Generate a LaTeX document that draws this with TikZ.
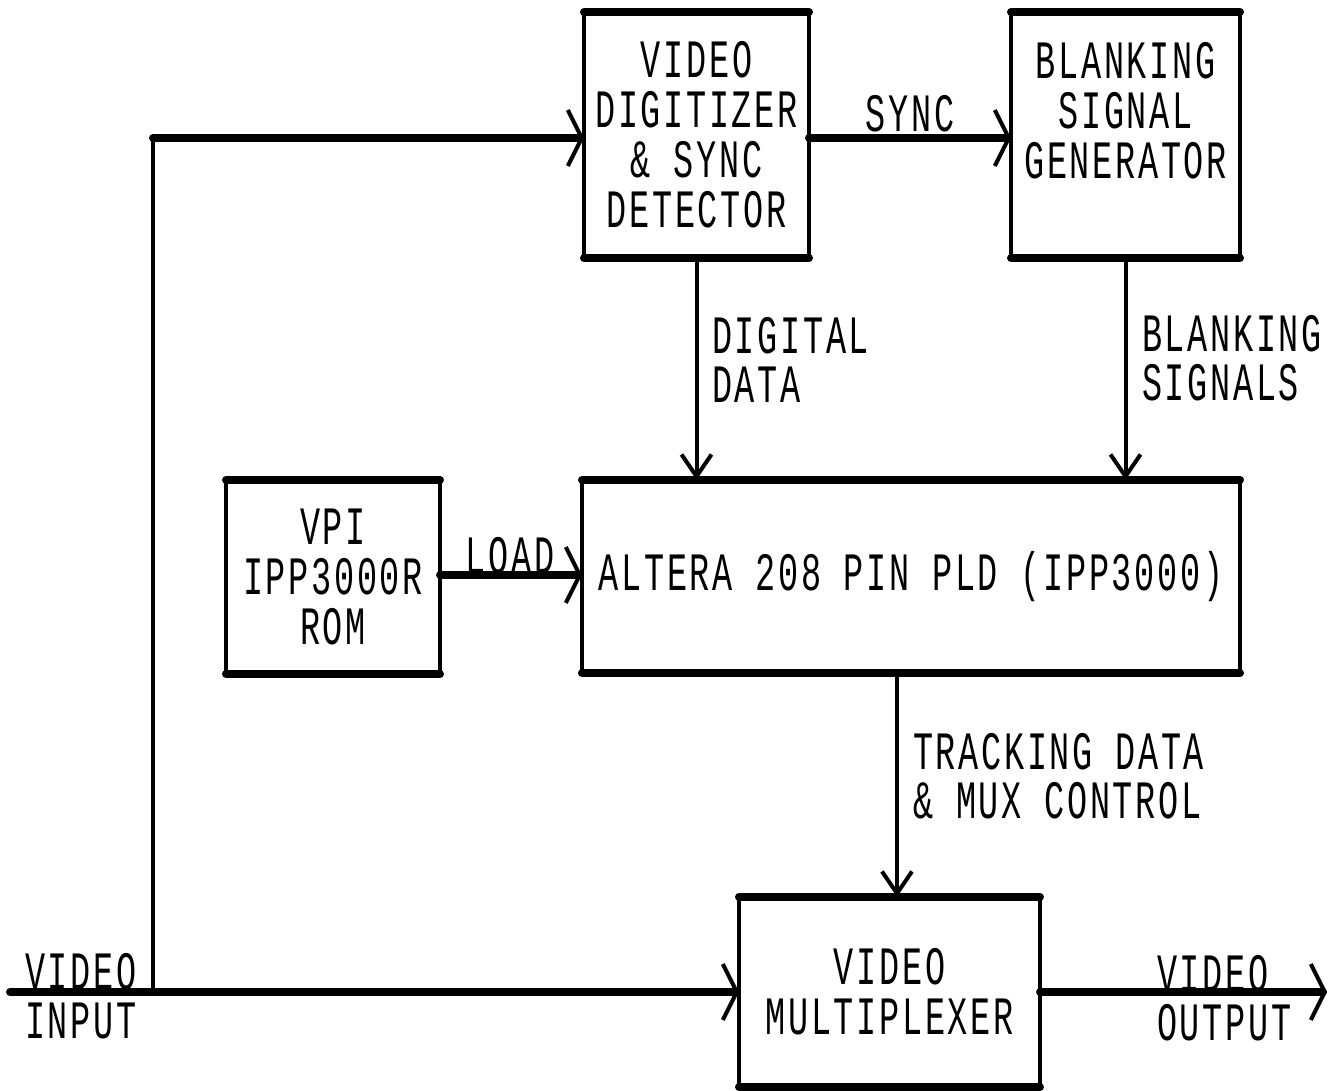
\documentclass[tikz,border=0pt]{standalone}
\usepackage{fontspec}
\newfontfamily\plotfont{Liberation Mono}[FakeStretch=0.62, LetterSpace=5]
\usetikzlibrary{arrows.meta}
\tikzset{
  txt/.style={font=\plotfont\fontsize{54}{50}\selectfont, inner sep=0pt, align=center},
  lbl/.style={font=\plotfont\fontsize{54}{49}\selectfont, inner sep=0pt},
  blk/.style={draw, line width=4pt, txt, rectangle, outer sep=0pt},
  hline/.style={line width=8pt, line cap=round},
  vline/.style={line width=4pt, line cap=round},
  harrow/.style={-{Straight Barb[length=14pt,width=56pt,line width=4pt]}},
  varrow/.style={-{Straight Barb[length=22pt,width=30pt,line width=4pt]}},
  edge8/.style={line width=8pt, line cap=round}
}
\begin{document}
\begin{tikzpicture}[x=1pt,y=-1pt]
\useasboundingbox (0,0) rectangle (1330,1091);
% blocks
\node[blk, minimum width=225pt, minimum height=246pt] (vd) at (696.5,135) {VIDEO\\DIGITIZER\\\& SYNC\\DETECTOR};
\node[blk, minimum width=229pt, minimum height=246pt] (bsg) at (1125.5,135) {BLANKING\\SIGNAL\\GENERATOR\\\phantom{X}};
\node[blk, minimum width=214pt, minimum height=194pt] (vpi) at (333,577) {VPI\\IPP3000R\\ROM};
\node[blk, minimum width=658pt, minimum height=193pt] (alt) at (911,576.5) {ALTERA 208 PIN PLD (IPP3000)};
\node[blk, minimum width=301pt, minimum height=190pt] (mux) at (889.5,992) {VIDEO\\MULTIPLEXER};
% thick top and bottom edges
\foreach \b in {vd,bsg,vpi,alt,mux}{
  \draw[edge8] (\b.north west) -- (\b.north east);
  \draw[edge8] (\b.south west) -- (\b.south east);
}
% free ends
\coordinate (vin) at (10,992);
\coordinate (tap) at (153,992);
\coordinate (bend) at (153,138);
\coordinate (vout) at (1327,992);
\coordinate (trk) at (897,700);
% connectors
\draw[hline, harrow] (vin) -- (mux.west);
\draw[vline] (tap) -- (bend);
\draw[hline, harrow] (bend) -- (vd.west |- bend);
\draw[hline, harrow] (vd.east |- bend) -- (bsg.west |- bend);
\draw[vline, varrow] (vd.south) -- (alt.north -| vd.south);
\draw[vline, varrow] (bsg.south) -- (alt.north -| bsg.south);
\draw[hline, harrow] (vpi.east |- 0,575) -- (alt.west |- 0,575);
\draw[vline, varrow] (alt.south -| trk) -- (mux.north -| trk);
\draw[hline, harrow] (mux.east) -- (vout);
% labels
\node[lbl, anchor=base] (lsync) at (910,132) {SYNC};
\node[lbl, anchor=north west, align=left] (ldig) at (712,317) {DIGITAL\\DATA};
\node[lbl, anchor=north west, align=left] (lblank) at (1142,315) {BLANKING\\SIGNALS};
\node[lbl, anchor=base] (lload) at (510,573) {LOAD};
\node[lbl, anchor=north west, align=left] (ltrack) at (913,733) {TRACKING DATA\\\& MUX CONTROL};
\node[lbl, anchor=north west, align=left] (lin) at (25,953) {VIDEO\\INPUT};
\node[lbl, anchor=north west, align=left] (lout) at (1157,955) {VIDEO\\OUTPUT};
\end{tikzpicture}
\end{document}
